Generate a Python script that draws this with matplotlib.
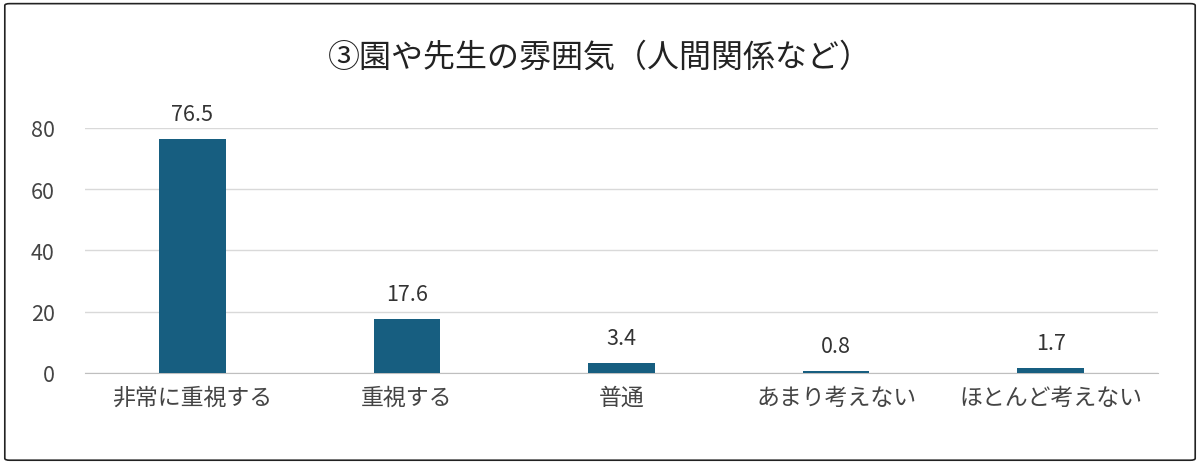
import matplotlib
matplotlib.use("Agg")
import matplotlib.pyplot as plt
from matplotlib.patches import FancyBboxPatch

plt.rcParams['font.family'] = ['Noto Sans CJK JP', 'DejaVu Sans']

categories = ["非常に重視する", "重視する", "普通", "あまり考えない", "ほとんど考えない"]
values = [76.5, 17.6, 3.4, 0.8, 1.7]
yticks = [0, 20, 40, 60, 80]
title = "③園や先生の雰囲気（人間関係など）"

fig = plt.figure(figsize=(12, 4.64), dpi=100)
ax = fig.add_axes([0.071, 0.194, 0.894, 0.528])
x = range(len(categories))
ax.bar(x, values, width=0.31, color="#175e80", zorder=3)
for xi, v in zip(x, values):
    ax.text(xi, v + 4.5, f"{v}", ha="center", va="bottom", fontsize=15.5, color="#333333", clip_on=False)
ax.set_xlim(-0.5, len(categories) - 0.5)
ax.set_ylim(0, 80)
ax.set_yticks(yticks)
ax.set_xticks(list(x))
ax.set_xticklabels(categories, fontsize=16.5, color="#444444")
ax.tick_params(axis='y', labelsize=15.5, colors="#444444", length=0, pad=22)
ax.tick_params(axis='x', length=0, pad=9)
ax.grid(axis='y', color="#d9d9d9", linewidth=1, zorder=0)
for s in ["top", "right", "left"]:
    ax.spines[s].set_visible(False)
ax.spines["bottom"].set_color("#bfbfbf")
fig.text(0.5, 0.875, title, ha="center", va="center", fontsize=23, color="#222222")
fig.patches.append(FancyBboxPatch((0.004, 0.006), 0.992, 0.984, boxstyle="round,pad=0,rounding_size=0.004",
                                  transform=fig.transFigure, fill=False, edgecolor="#222222", linewidth=1.2))
fig.savefig("out.png", dpi=100)
